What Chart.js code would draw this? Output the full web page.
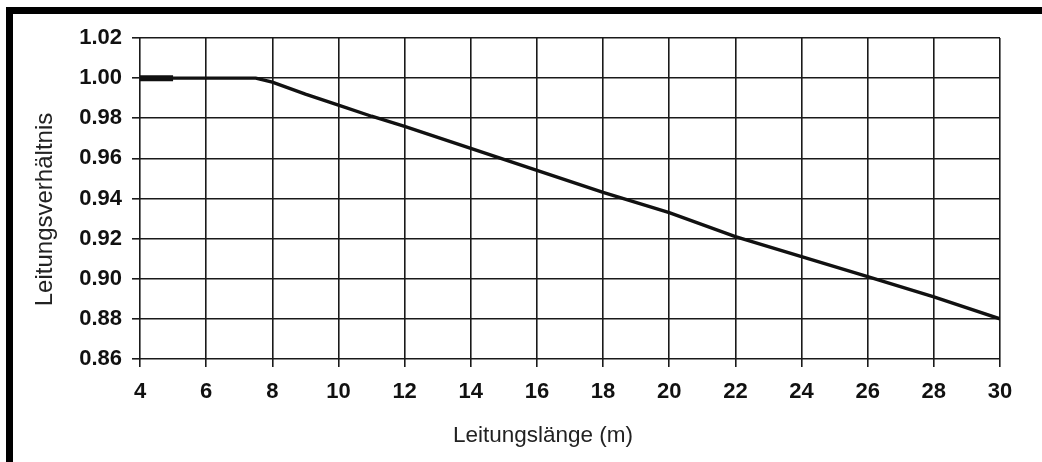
<!DOCTYPE html>
<html>
<head>
<meta charset="utf-8">
<script src="https://cdn.jsdelivr.net/npm/chart.js@4"></script>
<style>
  html, body { margin: 0; padding: 0; background: #fff; }
  #wrap { position: relative; width: 1042px; height: 462px; overflow: hidden; }
  #c { position: absolute; left: 0; top: 0; }
  .bar { position: absolute; background: #000; }
</style>
</head>
<body>
<div id="wrap">
  <canvas id="c" width="1042" height="462"></canvas>
  <div class="bar" style="left:6px; top:7px; width:1036px; height:7px;"></div>
  <div class="bar" style="left:6px; top:7px; width:7px; height:455px;"></div>
</div>
<script>
// Data
const lengths = [4, 7.5, 8, 9, 10, 11, 12, 14, 16, 18, 20, 22, 24, 26, 28, 30];
const ratios  = [1.000, 1.000, 0.998, 0.992, 0.9865, 0.981, 0.976, 0.965, 0.954, 0.943, 0.933, 0.921, 0.911, 0.901, 0.891, 0.880];
const thickLengths = [4, 5];
const thickRatios  = [1.000, 1.000];
const xTicks = [4, 6, 8, 10, 12, 14, 16, 18, 20, 22, 24, 26, 28, 30];
const yTicks = [0.86, 0.88, 0.90, 0.92, 0.94, 0.96, 0.98, 1.00, 1.02];
const xTitle = 'Leitungslänge (m)';
const yTitle = 'Leitungsverhältnis';

const FONT = "'Liberation Sans', Arial, Helvetica, sans-serif";

// Axis titles in the reference sit slightly off the plot centre; draw them with that offset
const axisTitles = {
  id: 'axisTitles',
  afterDraw(chart) {
    const { ctx, chartArea: a } = chart;
    ctx.save();
    ctx.fillStyle = '#222';
    ctx.textAlign = 'center';
    ctx.textBaseline = 'middle';
    ctx.font = "22.5px " + FONT;
    ctx.fillText(xTitle, (a.left + a.right) / 2 - 27, a.bottom + 77);
    ctx.translate(45, (a.top + a.bottom) / 2 + 11);
    ctx.rotate(-Math.PI / 2);
    ctx.font = "24px " + FONT;
    ctx.fillText(yTitle, 0, 0);
    ctx.restore();
  }
};

new Chart(document.getElementById('c'), {
  type: 'line',
  data: {
    datasets: [
      {
        data: lengths.map((x, i) => ({ x, y: ratios[i] })),
        borderColor: '#111',
        borderWidth: 3.4,
        pointRadius: 0,
        tension: 0,
        fill: false
      },
      {
        data: thickLengths.map((x, i) => ({ x, y: thickRatios[i] })),
        borderColor: '#111',
        borderWidth: 6,
        borderCapStyle: 'butt',
        pointRadius: 0,
        fill: false
      }
    ]
  },
  options: {
    responsive: false,
    animation: false,
    devicePixelRatio: 1,
    layout: { padding: { left: 20, right: 42, top: 38, bottom: 0 } },
    plugins: { legend: { display: false }, tooltip: { enabled: false } },
    scales: {
      x: {
        type: 'linear',
        min: 4, max: 30,
        afterBuildTicks: s => { s.ticks = xTicks.map(v => ({ value: v })); },
        afterFit: s => { s.height = 103; },
        grid: { color: '#1a1a1a', lineWidth: 1.6, tickLength: 8, drawTicks: true },
        border: { display: false },
        ticks: {
          color: '#111',
          padding: 12,
          maxRotation: 0,
          autoSkip: false,
          font: { family: FONT, size: 22, weight: 'bold' },
          callback: v => String(v)
        },
        title: { display: false }
      },
      y: {
        type: 'linear',
        min: 0.86, max: 1.02,
        afterBuildTicks: s => { s.ticks = yTicks.map(v => ({ value: v })); },
        afterFit: s => { s.width = 120; },
        grid: { color: '#1a1a1a', lineWidth: 1.6, tickLength: 8, drawTicks: true },
        border: { display: false },
        ticks: {
          color: '#111',
          padding: 10,
          autoSkip: false,
          font: { family: FONT, size: 22, weight: 'bold' },
          callback: v => Number(v).toFixed(2)
        },
        title: { display: false }
      }
    }
  },
  plugins: [axisTitles]
});
</script>
</body>
</html>
